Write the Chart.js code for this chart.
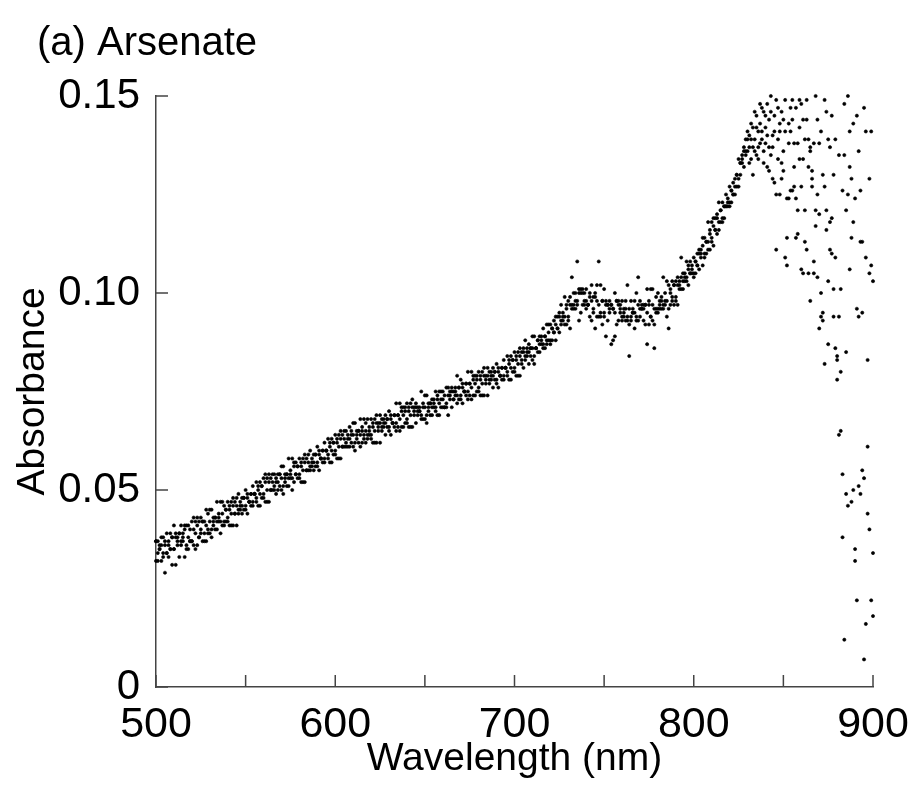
<!DOCTYPE html>
<html>
<head>
<meta charset="utf-8">
<script src="https://cdn.jsdelivr.net/npm/chart.js@4"></script>
<style>html,body{margin:0;padding:0;background:#fff}canvas{display:block}</style>
</head>
<body>
<canvas id="c" width="913" height="798"></canvas>
<script>
// Wavelength grid of the scans (nm)
const wavelengthStart = 500, wavelengthEnd = 900, wavelengthStep = 1;

// Absorbance readings of three overlaid scans, in units of 0.001 absorbance
const scan1_mAbs = [
37,34,35,32,38,37,34,36,35,38,
35,39,37,39,36,37,41,35,41,37,
42,36,42,36,42,43,37,42,37,44,
39,45,42,43,40,43,47,41,46,42,
47,41,47,41,47,48,44,46,44,48,
45,49,47,49,46,49,52,46,52,48,
53,47,53,47,53,54,50,52,50,54,
50,56,53,54,51,54,58,52,57,53,
58,52,58,52,58,59,55,57,55,59,
56,60,58,60,57,60,63,57,63,59,
64,58,64,58,64,65,61,63,61,65,
61,67,64,65,61,65,68,62,68,64,
68,62,68,62,67,69,65,67,64,68,
65,69,67,69,65,69,72,66,71,67,
72,66,72,66,71,72,69,71,68,72,
68,74,71,72,69,72,75,69,75,71,
75,71,76,69,75,76,73,75,72,76,
73,77,75,77,73,77,80,74,79,75,
80,74,80,74,79,81,77,79,76,80,
77,81,79,81,78,81,84,78,84,80,
85,79,85,79,85,86,83,85,82,86,
83,89,86,88,85,88,91,86,92,88,
92,88,93,88,94,95,92,94,92,97,
93,99,96,100,96,108,101,95,101,97,
101,97,99,93,99,100,94,108,94,98,
95,98,97,98,87,96,100,92,98,97,
98,95,96,93,84,98,95,95,93,104,
94,97,96,97,87,97,101,93,86,96,
100,96,98,96,98,103,96,100,98,102,
98,104,102,104,101,104,108,102,108,105,
109,105,110,106,111,114,109,113,111,116,
113,119,116,120,116,121,123,119,125,122,
127,123,128,125,130,134,130,135,132,139,
136,140,134,142,139,145,137,143,141,146,
142,148,137,150,140,145,149,139,143,146,
144,149,114,143,147,149,138,147,138,149,
148,144,139,149,139,137,131,138,150,144,
138,141,130,149,146,139,137,145,130,139,
84,135,80,126,148,121,150,141,129,143,
124,145,136,126,95,147,141,83,129,141,
103];

const scan2_mAbs = [
37,32,35,38,33,36,34,37,35,38,
35,38,36,39,37,38,40,36,38,40,
37,40,39,41,38,40,42,39,41,40,
42,40,41,43,42,44,42,44,42,45,
43,45,44,46,44,46,45,47,46,48,
46,48,47,49,47,49,48,50,49,51,
49,54,50,52,50,52,51,53,52,54,
53,51,52,54,53,55,53,56,54,56,
54,56,55,57,55,57,56,58,57,59,
57,59,58,60,58,60,59,61,60,62,
60,62,61,63,61,63,62,64,63,64,
64,62,63,65,64,66,64,65,64,66,
64,66,65,67,65,67,66,68,67,68,
66,68,67,69,67,69,68,70,69,70,
68,70,69,71,69,71,70,70,69,71,
71,69,70,72,71,73,71,73,72,73,
73,71,72,74,73,75,73,76,74,76,
74,76,75,77,75,77,76,78,77,78,
76,78,77,79,77,79,78,80,79,80,
78,80,79,81,79,81,80,82,81,83,
81,83,82,84,83,85,84,86,85,86,
86,84,86,88,87,89,87,89,88,90,
88,91,90,92,91,94,93,95,94,96,
94,97,104,96,98,97,100,101,97,100,
96,97,100,98,95,99,98,97,95,98,
94,97,93,95,97,88,95,98,93,96,
93,96,98,94,96,93,95,98,94,97,
98,96,93,97,95,98,94,97,96,95,
95,97,99,97,100,98,91,101,99,102,
99,102,101,109,103,105,104,106,105,107,
105,108,107,110,109,112,110,113,113,115,
114,117,116,119,118,121,119,122,122,124,
123,126,125,127,130,129,133,133,136,135,
139,133,143,137,146,135,141,138,147,136,
138,132,144,135,129,141,125,147,125,133,
136,141,107,124,126,144,132,114,115,142,
127,134,113,144,132,136,129,108,121,125,
120,100,95,127,121,103,118,119,101,109,
83,94,65,54,135,85,125,132,114,118,
35,96,51,49,55,53,109,44,105,107,
34];

const scan3_mAbs = [
32,37,36,36,34,29,39,33,39,31,
41,31,38,33,41,39,33,41,35,37,
37,43,35,43,38,39,42,37,45,39,
45,38,43,40,47,42,39,47,41,45,
42,46,41,48,44,41,49,45,48,45,
50,44,47,46,51,49,47,51,46,51,
48,52,47,54,50,50,54,49,54,51,
56,49,54,51,58,53,50,57,54,56,
53,57,52,59,55,55,60,56,59,56,
61,55,58,57,62,60,58,62,57,62,
59,63,58,65,61,61,65,61,66,62,
67,60,65,62,68,62,63,67,63,65,
63,67,62,69,66,62,68,66,69,66,
70,64,67,66,72,66,65,71,66,71,
67,71,66,73,70,67,71,70,75,68,
74,67,72,69,73,71,70,74,69,75,
71,74,71,76,74,71,75,74,79,73,
78,72,75,74,80,74,73,79,74,79,
75,79,74,81,78,74,80,78,81,78,
82,76,79,78,83,81,79,83,78,83,
80,84,79,86,82,81,88,84,87,84,
89,82,86,85,89,87,86,89,87,92,
87,91,90,94,91,90,97,93,99,92,
98,91,97,97,100,98,93,100,100,98,
98,97,94,102,96,91,102,94,102,92,
101,89,97,96,97,96,89,98,97,95,
94,94,93,102,92,94,96,91,100,93,
96,96,97,92,101,92,94,101,92,99,
96,98,96,104,97,94,102,97,103,97,
103,97,103,101,105,103,103,107,105,106,
104,108,107,111,110,107,114,110,118,111,
118,112,119,115,123,118,118,122,122,123,
122,126,125,129,127,127,133,134,137,136,
141,137,139,130,136,142,134,148,139,133,
145,140,131,146,137,128,111,134,141,129,
131,109,124,138,141,126,127,124,121,134,
106,105,121,111,105,98,127,105,117,104,
91,94,93,82,116,87,111,110,94,86,
78,64,101,38,12,49,46,106,47,50,
32,22,94,113,113,7,16,61,40,22,
18];

// Axis ticks
const xTickValues = [500,550,600,650,700,750,800,850,900];
const xTickLabelled = [500,600,700,800,900];
const yTickValues = [0,0.05,0.10,0.15];
const yTickLabels = ['0','0.05','0.10','0.15'];

const titleText = '(a) Arsenate';
const xTitle = 'Wavelength (nm)';
const yTitle = 'Absorbance';

function toPoints(scan){
  const pts = [];
  for (let i = 0; i < scan.length; i++) {
    const wl = wavelengthStart + i * wavelengthStep;
    if (wl > wavelengthEnd) break;
    pts.push({x: wl, y: scan[i] / 1000});
  }
  return pts;
}

const FONT = '"Liberation Sans", Arial, sans-serif';
const AXIS_COLOR = '#444';
const PAD = {left: 10, right: 40, top: 96, bottom: 10};
const CANVAS_H = 798;

const innerTicks = {
  id: 'innerTicks',
  afterDraw(chart){
    const ctx = chart.ctx, a = chart.chartArea;
    const xs = chart.scales.x, ys = chart.scales.y;
    ctx.save();
    ctx.strokeStyle = AXIS_COLOR;
    ctx.lineWidth = 1.5;
    ctx.beginPath();
    xs.ticks.forEach(t => {
      const px = xs.getPixelForValue(t.value);
      ctx.moveTo(px, a.bottom); ctx.lineTo(px, a.bottom - 12);
    });
    ys.ticks.forEach(t => {
      const py = ys.getPixelForValue(t.value);
      ctx.moveTo(a.left, py); ctx.lineTo(a.left + 12, py);
    });
    ctx.stroke();
    // panel title
    ctx.fillStyle = '#000';
    ctx.font = '40px ' + FONT;
    ctx.textBaseline = 'alphabetic';
    ctx.textAlign = 'left';
    ctx.fillText(titleText, 37, 55);
    ctx.restore();
  }
};

const ds = (data) => ({
  data, showLine: false, pointRadius: 1.6, pointHoverRadius: 1.6,
  pointBackgroundColor: '#000', pointBorderColor: '#000', pointBorderWidth: 0.6, clip: false
});

new Chart(document.getElementById('c'), {
  type: 'scatter',
  data: { datasets: [ds(toPoints(scan1_mAbs)), ds(toPoints(scan2_mAbs)), ds(toPoints(scan3_mAbs))] },
  options: {
    responsive: false, animation: false, devicePixelRatio: 1,
    layout: { padding: PAD },
    plugins: { legend: {display: false}, tooltip: {enabled: false}, title: {display: false} },
    scales: {
      x: {
        type: 'linear', min: 500, max: 900,
        afterBuildTicks(s){ s.ticks = xTickValues.map(v => ({value: v})); },
        afterFit(s){ s.height = CANVAS_H - PAD.bottom - 687; s.paddingLeft = 0; s.paddingRight = 0; },
        grid: { display: false, drawTicks: false },
        border: { display: true, color: AXIS_COLOR, width: 1.5 },
        ticks: {
          autoSkip: false, maxRotation: 0, padding: 12, color: '#000',
          font: { family: FONT, size: 43 },
          callback: (v) => xTickLabelled.includes(v) ? String(v) : ''
        },
        title: { display: true, text: xTitle, color: '#000', font: {family: FONT, size: 39}, padding: {top: 0, bottom: 5} }
      },
      y: {
        type: 'linear', min: 0, max: 0.15,
        afterBuildTicks(s){ s.ticks = yTickValues.map(v => ({value: v})); },
        afterFit(s){ s.width = 156 - PAD.left; s.paddingTop = 0; s.paddingBottom = 0; },
        grid: { display: false, drawTicks: false },
        border: { display: true, color: AXIS_COLOR, width: 1.5 },
        ticks: {
          autoSkip: false, padding: 16, color: '#000',
          font: { family: FONT, size: 42 },
          callback: (v, i) => yTickLabels[i]
        },
        title: { display: true, text: yTitle, color: '#000', font: {family: FONT, size: 39}, padding: {top: 0, bottom: 0} }
      }
    }
  },
  plugins: [innerTicks]
});
</script>
</body>
</html>
